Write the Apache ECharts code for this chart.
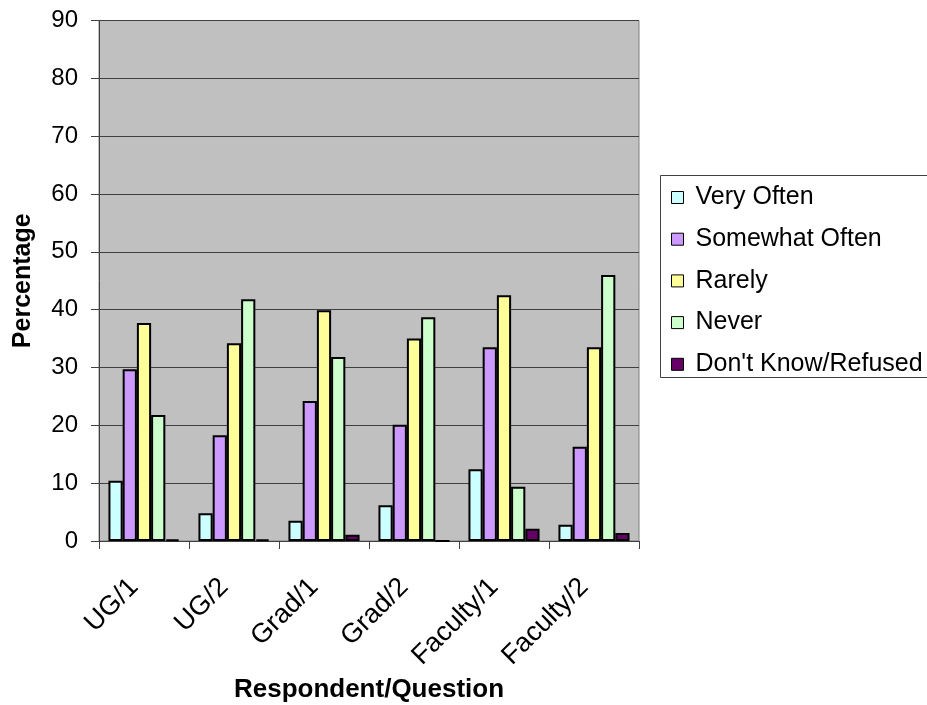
<!DOCTYPE html>
<html>
<head>
<meta charset="utf-8">
<script src="https://cdn.jsdelivr.net/npm/echarts@6/dist/echarts.min.js"></script>
<style>
html,body{margin:0;padding:0;background:#fff;}
#chart{width:927px;height:705px;}
</style>
</head>
<body>
<div id="chart"></div>
<script>
const categories = ['UG/1', 'UG/2', 'Grad/1', 'Grad/2', 'Faculty/1', 'Faculty/2'];
const seriesNames = ['Very Often', 'Somewhat Often', 'Rarely', 'Never', "Don't Know/Refused"];
const veryOften = [10.4, 4.8, 3.5, 6.2, 12.4, 2.8];
const somewhatOften = [29.7, 18.3, 24.2, 20.1, 33.5, 16.3];
const rarely = [37.7, 34.2, 39.9, 35.0, 42.5, 33.5];
const never = [21.8, 41.8, 31.8, 38.7, 9.4, 46.0];
const dontKnow = [0.3, 0.3, 1.1, 0, 2.1, 1.4];
const yTicks = [0, 10, 20, 30, 40, 50, 60, 70, 80, 90];

const colors = ['#CCFFFF', '#CC99FF', '#FFFF99', '#CCFFCC', '#660066'];
const allData = [veryOften, somewhatOften, rarely, never, dontKnow];
const FONT = 'Liberation Sans, Arial, sans-serif';

const chart = echarts.init(document.getElementById('chart'), null, {renderer: 'canvas'});
const option = {
  animation: false,
  backgroundColor: '#ffffff',
  textStyle: {fontFamily: FONT},
  grid: {
    left: 99, right: 288, top: 20.5, bottom: 164,
    containLabel: false, outerBoundsMode: 'none',
    show: true, backgroundColor: '#C0C0C0', borderColor: '#808080', borderWidth: 1
  },
  graphic: [{
    type: 'rect', left: 660, top: 175, z: 0,
    shape: {width: 300, height: 202},
    style: {fill: '#ffffff', stroke: '#404040', lineWidth: 1}
  }],
  legend: {
    orient: 'vertical', left: 666, top: 180, z: 5,
    itemWidth: 12, itemHeight: 12, itemGap: 16.7,
    icon: 'rect',
    textStyle: {fontFamily: FONT, fontSize: 25, color: '#000', padding: [0, 0, 0, 7], lineHeight: 25},
    itemStyle: {borderColor: '#000', borderWidth: 1},
    data: seriesNames
  },
  xAxis: {
    type: 'category', data: categories,
    name: 'Respondent/Question', nameLocation: 'middle', nameGap: 136,
    nameTextStyle: {fontFamily: FONT, fontSize: 26, fontWeight: 'bold', color: '#000'},
    axisLine: {lineStyle: {color: '#404040', width: 1}},
    axisTick: {show: true, length: 8, lineStyle: {color: '#404040'}},
    axisLabel: {rotate: 45, fontFamily: FONT, fontSize: 27, color: '#000', margin: 32, padding: [0, 14, 0, 0]}
  },
  yAxis: {
    type: 'value', min: yTicks[0], max: yTicks[yTicks.length - 1], interval: 10,
    name: 'Percentage', nameLocation: 'middle', nameGap: 63.5,
    nameTextStyle: {fontFamily: FONT, fontSize: 25, fontWeight: 'bold', color: '#000'},
    axisLine: {show: true, lineStyle: {color: '#404040', width: 1}},
    axisTick: {show: true, length: 8, lineStyle: {color: '#404040'}},
    axisLabel: {fontFamily: FONT, fontSize: 24, color: '#000', margin: 21},
    splitLine: {show: true, lineStyle: {color: '#404040', width: 1}}
  },
  series: seriesNames.map((name, i) => ({
    name: name, type: 'bar', data: allData[i],
    barGap: '0%', barCategoryGap: '21%',
    itemStyle: {color: colors[i], borderColor: '#000', borderWidth: 2}
  }))
};
chart.setOption(option);
</script>
</body>
</html>
